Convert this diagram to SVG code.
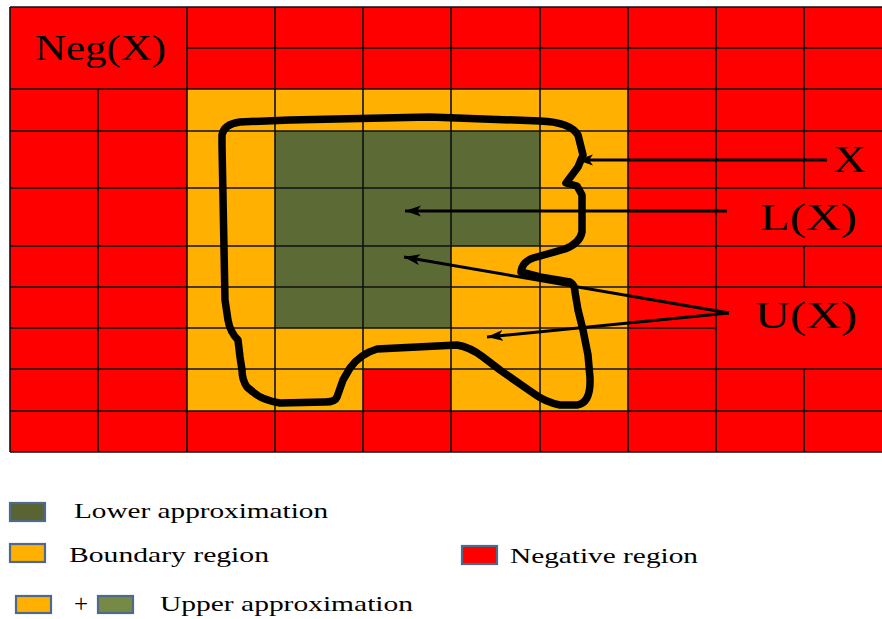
<svg xmlns="http://www.w3.org/2000/svg" width="882" height="619" viewBox="0 0 882 619">
<defs>
<style>
.red{fill:#FF0000}
.org{fill:#FFB000}
.grn{fill:#5C6A36}
.gl{stroke:#111;stroke-width:1.6;fill:none}
.lbl{font-family:"Liberation Serif","Times New Roman",serif;fill:#000}
.con{stroke:#000;stroke-width:3;fill:none}
.sw{stroke:#4D6A8C;stroke-width:2.2}
</style>
<marker id="ah" markerUnits="userSpaceOnUse" markerWidth="18" markerHeight="12" refX="16" refY="5.5" orient="auto">
<path d="M0,0 L16,5.5 L0,11 L4,5.5 Z" fill="#000"/>
</marker>
</defs>
<rect width="882" height="619" fill="#fff"/>
<g id="grid">
<rect class="red" x="10" y="7" width="872" height="445"/>
<rect class="org" x="187" y="89" width="441" height="322"/>
<rect class="grn" x="275" y="131" width="265" height="115"/>
<rect class="grn" x="275" y="246" width="176" height="82"/>
<rect class="red" x="363" y="369" width="88" height="42"/>
<path class="gl" d="M10,7H882 M187,48H882 M10,89H882 M10,131H882 M10,188H882 M10,246H882 M10,287H882 M10,328H716 M10,369H882 M10,411H882 M10,452H882 M10,7V452 M98,89V452 M187,7V452 M275,7V452 M363,7V452 M451,7V452 M540,7V452 M628,7V452 M716,7V452 M804,7V188 M804,246V287 M804,369V452"/>
</g>
<g id="set-X">
<path d="M222,145 L222,135 Q224,124 240,122 L290,120 L430,117 L540,121 Q570,122 578,135 L583,155 L578,167 L566,183 L577,186 L582,195 L582,232 Q580,243 565,249 L533,258 Q522,262 521,272 L540,277 L570,282 Q575,285 575,292 L578,310 L583,330 L588,355 L590,378 Q591,403 577,405 L560,405 Q545,402 533,393 L500,370 L483,357 Q470,347 457,345 L417,347 L377,349 Q360,354 350,368 L343,380 L337,397 Q335,402 325,402 L280,403 Q262,400 253,392 L247,387 Q242,380 242,370 L240,357 L238,340 Q230,332 228,320 L225,300 Z" fill="none" stroke="#000" stroke-width="7.5" stroke-linejoin="round"/>
</g>
<g id="label-neg"><text class="lbl" x="35" y="60" font-size="35" textLength="131" lengthAdjust="spacingAndGlyphs">Neg(X)</text></g>
<g id="label-x"><text class="lbl" x="833" y="172" font-size="37" textLength="33" lengthAdjust="spacingAndGlyphs">X</text></g>
<g id="label-lx"><text class="lbl" x="760" y="230" font-size="37" textLength="97" lengthAdjust="spacingAndGlyphs">L(X)</text></g>
<g id="label-ux"><text class="lbl" x="755" y="328" font-size="37" textLength="102" lengthAdjust="spacingAndGlyphs">U(X)</text></g>
<g id="connectors">
<path class="con" d="M827,160 L577,160" marker-end="url(#ah)"/>
<path class="con" d="M727,211 L405,211" marker-end="url(#ah)"/>
<path class="con" d="M729,313 L404,257" marker-end="url(#ah)"/>
<path class="con" d="M729,313 L487,337" marker-end="url(#ah)"/>
</g>
<g id="legend-lower">
<rect class="sw" x="10" y="503" width="35" height="18" fill="#5A6432"/>
<text class="lbl" x="74" y="518" font-size="21" textLength="254" lengthAdjust="spacingAndGlyphs">Lower approximation</text>
</g>
<g id="legend-boundary">
<rect class="sw" x="10" y="544" width="35" height="18" fill="#FFB000"/>
<text class="lbl" x="69" y="562" font-size="21" textLength="200" lengthAdjust="spacingAndGlyphs">Boundary region</text>
</g>
<g id="legend-negative">
<rect class="sw" x="462" y="546" width="35" height="18" fill="#FF0000"/>
<text class="lbl" x="510" y="563" font-size="21" textLength="188" lengthAdjust="spacingAndGlyphs">Negative region</text>
</g>
<g id="legend-upper">
<rect class="sw" x="16" y="596" width="35" height="17" fill="#FFB000"/>
<text class="lbl" x="74" y="612" font-size="25">+</text>
<rect class="sw" x="98" y="596" width="35" height="17" fill="#768A46"/>
<text class="lbl" x="160" y="611" font-size="21" textLength="253" lengthAdjust="spacingAndGlyphs">Upper approximation</text>
</g>
</svg>
